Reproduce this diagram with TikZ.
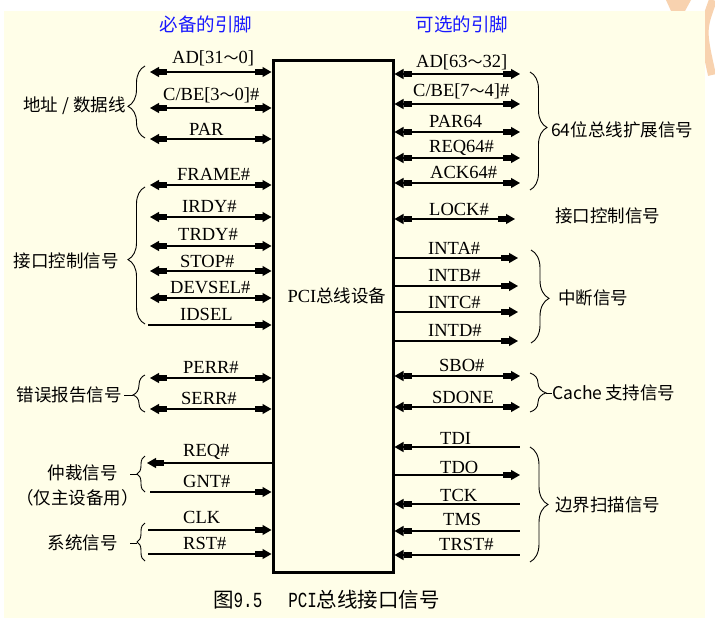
\documentclass[tikz,border=0pt]{standalone}
\usepackage{fontspec}
\setmainfont{Liberation Serif}
\newfontfamily\cjk{Noto Sans CJK SC}
\newfontfamily\monof{Liberation Mono}
\usetikzlibrary{arrows.meta,decorations.pathreplacing}
\definecolor{cream}{RGB}{255,254,232}
\definecolor{titleblue}{RGB}{25,25,255}
\definecolor{wm}{RGB}{248,210,175}
\newcommand{\wv}{{\cjk\fontsize{15}{18}\selectfont ～}}
\newcommand{\mono}[1]{\scalebox{0.74}[1]{\monof\fontsize{21.5}{24}\selectfont #1}}
\tikzset{
  sig/.style={line width=1.2pt},
  hd/.style={},
  bi/.style={sig,{Triangle[length=9pt,width=10pt]Rectangle[length=8pt,width=5.5pt]}-{Rectangle[length=8pt,width=5.5pt]Triangle[length=9pt,width=10pt]}},
  toR/.style={sig,-{Rectangle[length=8pt,width=5.5pt]Triangle[length=9pt,width=10pt]}},
  toL/.style={sig,{Triangle[length=9pt,width=10pt]Rectangle[length=8pt,width=5.5pt]}-},
  lab/.style={anchor=base west,inner sep=0,font=\fontsize{18.5}{21}\selectfont},
  grp/.style={inner sep=0,font=\cjk\fontsize{17.5}{20}\selectfont},
  brc/.style n args={2}{decorate,decoration={brace,amplitude=#1,aspect=#2},line width=0.9pt},
  ttl/.style={inner sep=0,text=titleblue,font=\cjk\fontsize{18.5}{22}\selectfont},
}
\begin{document}
\begin{tikzpicture}[x=1pt,y=-1pt]
\useasboundingbox (0,0) rectangle (715,618);
\fill[white] (0,0) rectangle (715,618);
% watermark fragments
\fill[wm] (666,0) -- (691,0) -- (685,11) -- (671,11) -- cycle;
\draw[wm,line width=8pt] (713,0) .. controls (702,30) .. (712,75);
\fill[cream] (4,11) rectangle (705,618);

% titles
\node[ttl] (tA) at (206,24) {必备的引脚};
\node[ttl] (tB) at (462,24) {可选的引脚};

% device box
\node[draw,line width=3pt,minimum width=120pt,minimum height=511pt,inner sep=0] (dev) at (333,316.5) {};
\node[inner sep=0,font=\fontsize{18.5}{21}\selectfont] (devt) at (337,296) {PCI{\cjk\fontsize{17.5}{20}\selectfont 总线设备}};

% ---------- left signals ----------
\coordinate (l1) at (150,72);  \draw[bi] (l1) -- (l1 -| dev.west);
\coordinate (l2) at (150,108); \draw[bi] (l2) -- (l2 -| dev.west);
\coordinate (l3) at (150,139); \draw[bi] (l3) -- (l3 -| dev.west);
\coordinate (l4) at (150,185); \draw[bi] (l4) -- (l4 -| dev.west);
\coordinate (l5) at (150,217); \draw[bi] (l5) -- (l5 -| dev.west);
\coordinate (l6) at (150,246); \draw[bi] (l6) -- (l6 -| dev.west);
\coordinate (l7) at (150,271); \draw[bi] (l7) -- (l7 -| dev.west);
\coordinate (l8) at (150,298); \draw[bi] (l8) -- (l8 -| dev.west);
\coordinate (l9) at (148,325); \draw[toR] (l9) -- (l9 -| dev.west);
\coordinate (l10) at (150,378); \draw[bi] (l10) -- (l10 -| dev.west);
\coordinate (l11) at (150,409); \draw[bi] (l11) -- (l11 -| dev.west);
\coordinate (l12) at (147,463); \draw[toL] (l12) -- (l12 -| dev.west);
\coordinate (l13) at (150,492); \draw[toR] (l13) -- (l13 -| dev.west);
\coordinate (l14) at (148,530); \draw[toR] (l14) -- (l14 -| dev.west);
\coordinate (l15) at (148,554); \draw[toR] (l15) -- (l15 -| dev.west);

\node[lab] (n1) at (172,64) {AD[31\wv 0]};
\node[lab] (n2) at (163,100) {C/BE[3\wv 0]\#};
\node[lab] (n3) at (189,135) {PAR};
\node[lab] (n4) at (177,180) {FRAME\#};
\node[lab] (n5) at (182,212) {IRDY\#};
\node[lab] (n6) at (178,240) {TRDY\#};
\node[lab] (n7) at (180,267) {STOP\#};
\node[lab] (n8) at (170,293) {DEVSEL\#};
\node[lab] (n9) at (180,320) {IDSEL};
\node[lab] (n10) at (183,373) {PERR\#};
\node[lab] (n11) at (181,404) {SERR\#};
\node[lab] (n12) at (183,456) {REQ\#};
\node[lab] (n13) at (183,487) {GNT\#};
\node[lab] (n14) at (183,523) {CLK};
\node[lab] (n15) at (183,549) {RST\#};

% ---------- right signals ----------
\coordinate (r1) at (520,74);  \draw[bi] (r1 -| dev.east) -- (r1);
\coordinate (r2) at (520,104); \draw[bi] (r2 -| dev.east) -- (r2);
\coordinate (r3) at (520,132); \draw[bi] (r3 -| dev.east) -- (r3);
\coordinate (r4) at (520,158); \draw[bi] (r4 -| dev.east) -- (r4);
\coordinate (r5) at (520,183); \draw[bi] (r5 -| dev.east) -- (r5);
\coordinate (r6) at (515,219); \draw[bi] (r6 -| dev.east) -- (r6);
\coordinate (r7) at (518,258); \draw[toR] (r7 -| dev.east) -- (r7);
\coordinate (r8) at (518,286); \draw[toR] (r8 -| dev.east) -- (r8);
\coordinate (r9) at (518,312); \draw[toR] (r9 -| dev.east) -- (r9);
\coordinate (r10) at (518,341); \draw[toR] (r10 -| dev.east) -- (r10);
\coordinate (r11) at (520,376); \draw[bi] (r11 -| dev.east) -- (r11);
\coordinate (r12) at (520,407); \draw[bi] (r12 -| dev.east) -- (r12);
\coordinate (r13) at (520,447); \draw[toL] (r13 -| dev.east) -- (r13);
\coordinate (r14) at (520,475); \draw[toR] (r14 -| dev.east) -- (r14);
\coordinate (r15) at (520,504); \draw[toL] (r15 -| dev.east) -- (r15);
\coordinate (r16) at (520,531); \draw[toL] (r16 -| dev.east) -- (r16);
\coordinate (r17) at (520,555); \draw[toL] (r17 -| dev.east) -- (r17);

\node[lab] (m1) at (416,67) {AD[63\wv 32]};
\node[lab] (m2) at (413,96) {C/BE[7\wv 4]\#};
\node[lab] (m3) at (429,127) {PAR64};
\node[lab] (m4) at (429,152) {REQ64\#};
\node[lab] (m5) at (430,178) {ACK64\#};
\node[lab] (m6) at (429,215) {LOCK\#};
\node[lab] (m7) at (428,254) {INTA\#};
\node[lab] (m8) at (428,281) {INTB\#};
\node[lab] (m9) at (428,308) {INTC\#};
\node[lab] (m10) at (428,336) {INTD\#};
\node[lab] (m11) at (439,371) {SBO\#};
\node[lab] (m12) at (432,403) {SDONE};
\node[lab] (m13) at (440,444) {TDI};
\node[lab] (m14) at (440,473) {TDO};
\node[lab] (m15) at (440,501) {TCK};
\node[lab] (m16) at (443,525) {TMS};
\node[lab] (m17) at (439,550) {TRST\#};

% ---------- left braces and group labels ----------
\draw[brc={17pt}{0.44}] (145,138) -- (145,66);
\node[grp,anchor=east] (g1) at (126,106) {地址\hspace{4pt}/\hspace{4pt}数据线};
\draw[brc={17pt}{0.47}] (145,324) -- (145,187);
\node[grp,anchor=east] (g2) at (119,261) {接口控制信号};
\draw[brc={12pt}{0.46}] (145,412) -- (145,375);
\coordinate (d3) at (133,395);
\node[grp,anchor=east] (g3) at (122,395) {错误报告信号};
\draw[line width=0.9pt] (124,395) -- (d3);
\draw[brc={8pt}{0.5}] (145,492) -- (145,456);
\coordinate (d4) at (137,474);
\node[grp,anchor=east] (g4) at (118,473) {仲裁信号};
\draw[line width=0.9pt] (130,474) -- (d4);
\node[grp,anchor=east] (g4b) at (139,498) {（仅主设备用）};
\draw[brc={8pt}{0.5}] (145,561) -- (145,523);
\coordinate (d5) at (137,543);
\node[grp,anchor=east] (g5) at (118,543) {系统信号};
\draw[line width=0.9pt] (130,543) -- (d5);

% ---------- right braces and group labels ----------
\draw[brc={17pt}{0.47}] (530,72) -- (530,190);
\node[grp,anchor=west] (h1) at (551,130) {64位总线扩展信号};
\node[grp,anchor=west] (h2) at (555,216) {接口控制信号};
\draw[brc={18pt}{0.52}] (531,250) -- (531,343);
\node[grp,anchor=west] (h3) at (558,298) {中断信号};
\draw[brc={16pt}{0.51}] (530,373) -- (530,412);
\coordinate (e4) at (546,393);
\node[grp,anchor=west] (h4) at (552,393) {Cache\hspace{3pt}支持信号};
\draw[line width=0.9pt] (e4) -- (h4.west);
\draw[brc={18pt}{0.5}] (530,447) -- (530,562);
\node[grp,anchor=west] (h5) at (555,505) {边界扫描信号};

% caption
\node[inner sep=0,anchor=west] (cap) at (213,600)
  {{\cjk\fontsize{20.5}{23}\selectfont 图}\mono{9.5}\hspace{26pt}\mono{PCI}{\cjk\fontsize{20.5}{23}\selectfont 总线接口信号}};
\end{tikzpicture}
\end{document}
